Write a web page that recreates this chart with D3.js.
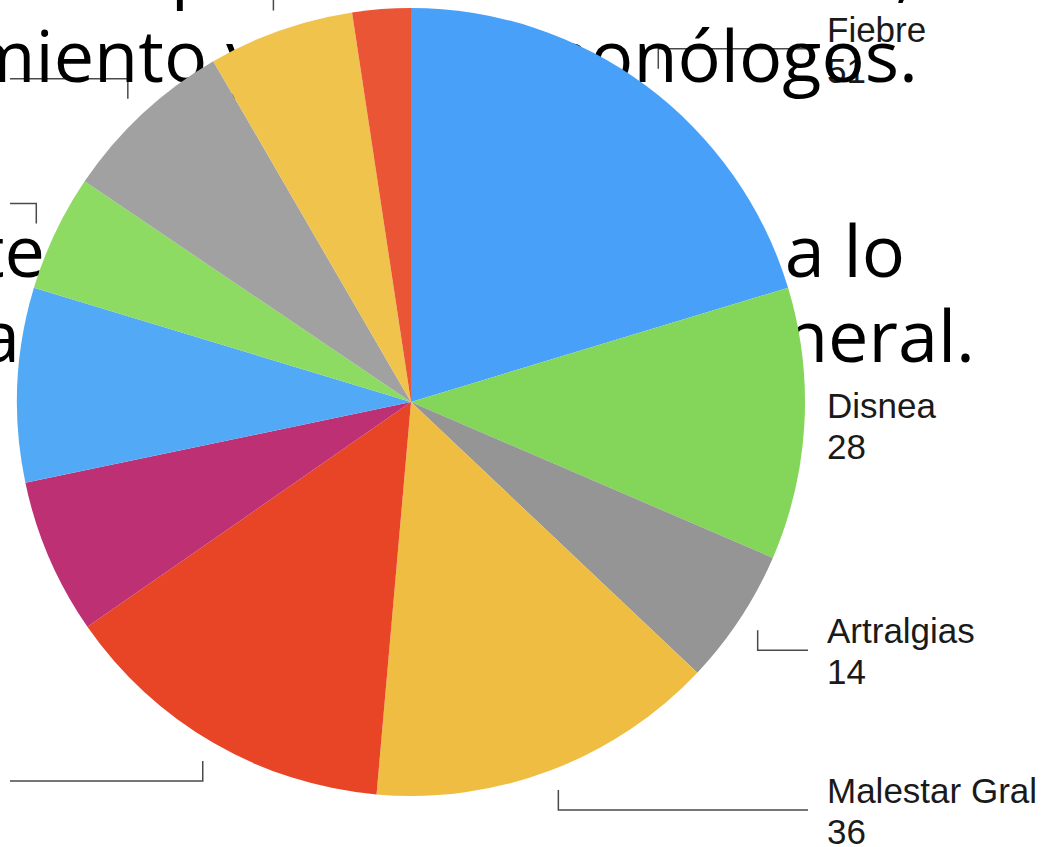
<!DOCTYPE html>
<html>
<head>
<meta charset="utf-8">
<script src="https://cdn.jsdelivr.net/npm/d3@7"></script>
<style>
  html, body { margin: 0; padding: 0; background: #fff; overflow: hidden; }
  svg { display: block; }
</style>
</head>
<body>
<div id="chart"></div>
<script>
// slices, clockwise from 12 o'clock
const categories = ["Fiebre", "Disnea", "Artralgias", "Malestar Gral", "Tos", "Cefalea",
                    "Anosmia", "Ageusia", "Odinofagia", "Mialgias", "Diarrea"];
const values = [51, 28, 14, 36, 35, 16, 20, 12, 18, 15, 6];
const colors = ["#48a0f8", "#83d65a", "#959595", "#eebd42", "#e84426", "#be3074",
                "#52aaf6", "#8ddb62", "#a1a1a1", "#f0c44c", "#ea5536"];

// slide text behind the chart (only fragments are visible)
const slideLines = [
    { left: "tiempo", leftEnd: 258, right: "controles,", rightEnd: 914, y: -6 },
    { left: "seguimiento y", leftEnd: 262, right: "neumonólogos.", rightEnd: 918, y: 82 },
    { left: "paciente", leftEnd: 45, right: "a lo", rightEnd: 905, y: 277 },
    { left: "a", leftEnd: 20, right: "general.", rightEnd: 975, y: 362 }
];

const width = 1045, height = 847;
const cx = 411, cy = 402, radius = 394;

const svg = d3.select("#chart").append("svg")
    .attr("width", width)
    .attr("height", height);

const pie = d3.pie().sort(null).value(d => d.value);
const arcs = pie(categories.map((c, i) => ({ name: c, value: values[i], color: colors[i] })));
const arc = d3.arc().innerRadius(0).outerRadius(radius);

// labels + leader lines
const labelLayer = svg.append("g").attr("class", "labels");
const outer = radius + 21;
arcs.forEach(d => {
    const mid = (d.startAngle + d.endAngle) / 2;
    const ex = cx + outer * Math.sin(mid);
    const ey = cy - outer * Math.cos(mid);
    const right = ex >= cx;
    const textX = right ? cx + radius + 22 : cx - radius - 26;
    const lineEnd = right ? textX - 19 : 10;
    const span = right ? lineEnd - ex : ex - lineEnd;
    let ly = ey;
    if (span >= 20) {
        ly = ey + (ey < cy ? -20 : 20);
        labelLayer.append("path")
            .attr("d", `M${ex},${ey}L${ex},${ly}L${lineEnd},${ly}`)
            .attr("fill", "none")
            .attr("stroke", "#4a4a4a")
            .attr("stroke-width", 1.5);
    }
    const t = labelLayer.append("text")
        .attr("x", textX)
        .attr("text-anchor", right ? "start" : "end")
        .style("font-family", "'Liberation Sans', Arial, sans-serif")
        .style("font-size", "35px")
        .style("fill", "#1a1a1a");
    t.append("tspan").attr("x", textX).attr("y", ly - 7).text(d.data.name);
    t.append("tspan").attr("x", textX).attr("y", ly + 34).text(d.data.value);
});

// slide text
const textLayer = svg.append("g").attr("class", "slide-text")
    .style("font-family", "'Open Sans', sans-serif")
    .style("font-size", "72px")
    .style("fill", "#000");
slideLines.forEach(l => {
    textLayer.append("text").attr("x", l.leftEnd).attr("y", l.y)
        .attr("text-anchor", "end").text(l.left);
    textLayer.append("text").attr("x", l.rightEnd).attr("y", l.y)
        .attr("text-anchor", "end").text(l.right);
});

// pie on top
svg.append("g")
    .attr("transform", `translate(${cx},${cy})`)
    .selectAll("path")
    .data(arcs)
    .join("path")
    .attr("d", arc)
    .attr("fill", d => d.data.color);
</script>
</body>
</html>
